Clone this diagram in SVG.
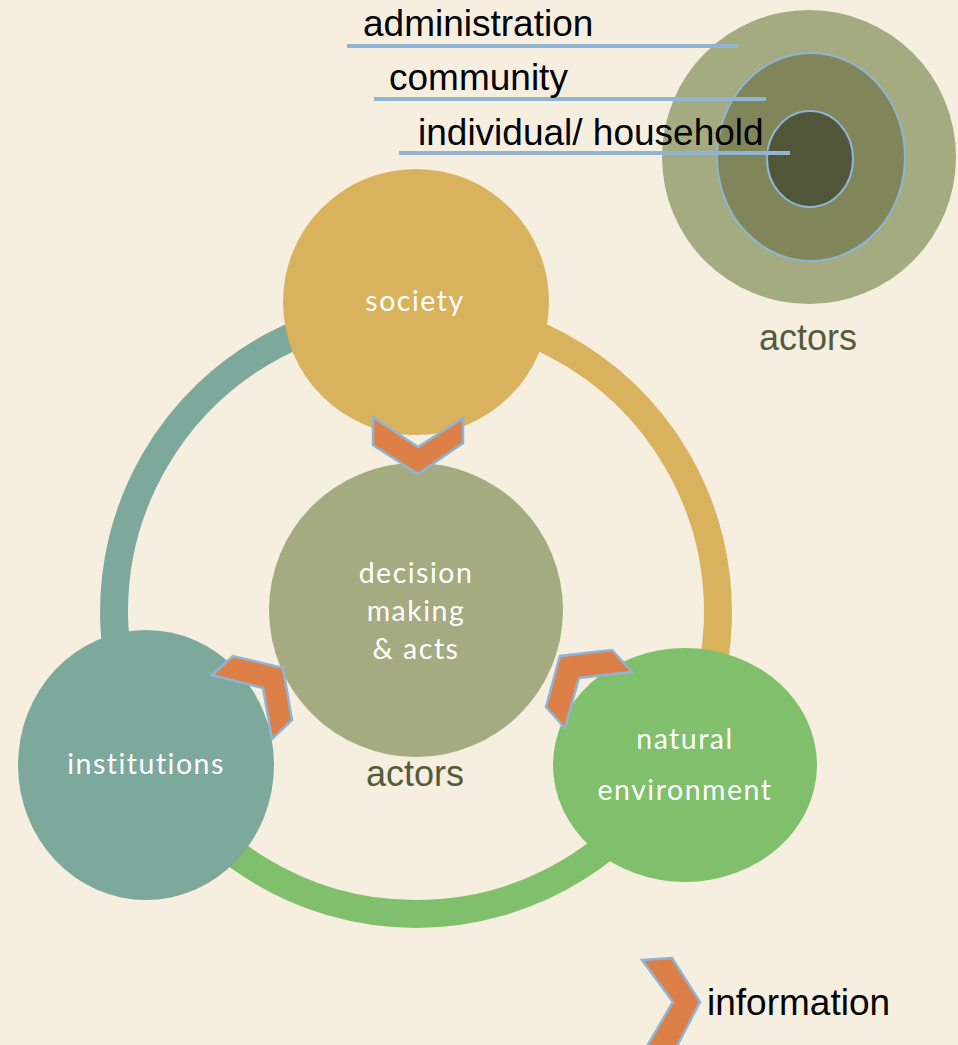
<svg xmlns="http://www.w3.org/2000/svg" width="958" height="1045" viewBox="0 0 958 1045">
<defs>
<style>
.lbl{font-family:"Lato","Open Sans",sans-serif;fill:#ffffff;font-size:28.5px;letter-spacing:1.5px;text-anchor:middle}
.blk{font-family:"Liberation Sans",Arial,sans-serif;fill:#000000;font-size:37px}
.act{font-family:"Liberation Sans",Arial,sans-serif;fill:#545b3c;font-size:36px;text-anchor:middle}
.chev{fill:#dd8048;stroke:#8fb4d6;stroke-width:2.5;stroke-linejoin:miter}
.ring{fill:none;stroke-width:28}
.lead{stroke:#92b4d3;stroke-width:4}
</style>
</defs>
<rect width="958" height="1045" fill="#f6efe0"/>
<g id="connectors">
<path class="ring" stroke="#7da89c" d="M 416 310 A 302 302 0 0 0 154.5 763"/>
<path class="ring" stroke="#d8b25c" d="M 416 310 A 302 302 0 0 1 677.5 763"/>
<path class="ring" stroke="#80c06c" d="M 154.5 763 A 302 302 0 0 0 677.5 763"/>
</g>
<g id="actors-levels">
<ellipse cx="809" cy="157" rx="147" ry="147" fill="#a4ab80"/>
<ellipse cx="811" cy="157" rx="94" ry="104" fill="#80865a" stroke="#8fb4d6" stroke-width="2"/>
<ellipse cx="810" cy="159" rx="43" ry="48" fill="#515639" stroke="#8fb4d6" stroke-width="2"/>
<text class="act" x="808" y="350">actors</text>
</g>
<g id="level-administration">
<line class="lead" x1="347" y1="46" x2="738" y2="46"/>
<text class="blk" x="363" y="36">administration</text>
</g>
<g id="level-community">
<line class="lead" x1="374" y1="99" x2="766" y2="99"/>
<text class="blk" x="389" y="90">community</text>
</g>
<g id="level-individual">
<line class="lead" x1="399" y1="153" x2="790" y2="153"/>
<text class="blk" x="418" y="145">individual/ household</text>
</g>
<g id="society">
<circle cx="416" cy="302" r="133" fill="#d8b25c"/>
<text class="lbl" x="415" y="311">society</text>
</g>
<g id="decision">
<circle cx="416" cy="610" r="147" fill="#a4ab80"/>
<text class="lbl" x="416" y="583">decision</text>
<text class="lbl" x="416" y="621">making</text>
<text class="lbl" x="416" y="659">&amp; acts</text>
<text class="act" x="415" y="786">actors</text>
</g>
<g id="institutions">
<ellipse cx="146" cy="765" rx="128" ry="135" fill="#7da89c"/>
<text class="lbl" x="146" y="774">institutions</text>
</g>
<g id="natural-environment">
<ellipse cx="685" cy="765" rx="132" ry="117" fill="#80c06c"/>
<text class="lbl" x="685" y="749">natural</text>
<text class="lbl" x="685" y="800">environment</text>
</g>
<g id="information-arrows">
<polygon class="chev" points="373,417 418,447 463,418 463,443 418,474 373,445"/>
<polygon class="chev" points="212,675 233,656 283,668 292,720 272,739 263,688"/>
<polygon class="chev" points="632,672 612,650 560,656 546,707 565,728 579,678"/>
</g>
<g id="legend">
<polygon class="chev" points="642,960 672,958 700,1002 676,1048 646,1048 673,1002"/>
<text class="blk" x="707" y="1015">information</text>
</g>
</svg>
